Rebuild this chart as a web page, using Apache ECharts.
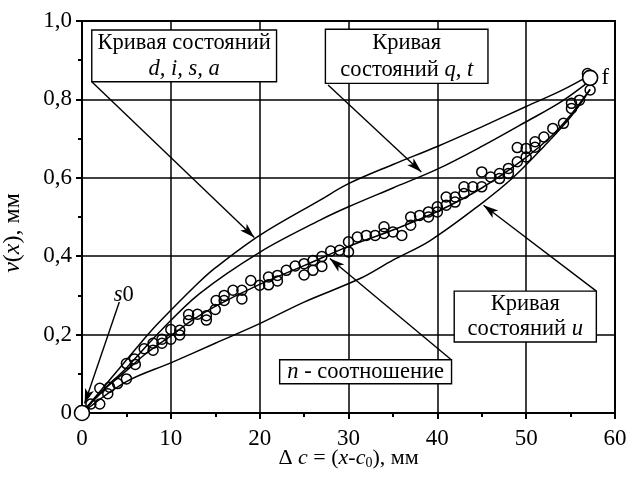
<!DOCTYPE html>
<html>
<head>
<meta charset="utf-8">
<script src="https://cdn.jsdelivr.net/npm/echarts@6/dist/echarts.min.js"></script>
<style>
  html, body { margin: 0; padding: 0; background: #fff; }
  #chart { width: 627px; height: 481px; }
</style>
</head>
<body>
<div id="chart"></div>
<script>
// Curves of states, mm displacement v(x) against Δc
const curveDISA = [[0,0],[2.35,0.064],[5,0.135],[7.6,0.205],[10,0.262],[13.2,0.334],[15,0.37],[20,0.453],[26.8,0.543],[30,0.585],[35,0.634],[40,0.68],[45,0.73],[50,0.782],[54,0.823],[57.2,0.862]];
const curveQT   = [[0,0],[2.35,0.058],[5,0.115],[8.7,0.206],[13.2,0.304],[20,0.41],[26.8,0.492],[30,0.526],[35,0.574],[40,0.622],[45,0.68],[50,0.743],[54,0.795],[57.2,0.848]];
const curveU    = [[0,0],[5,0.08],[10,0.128],[15,0.178],[20,0.228],[25,0.283],[31.3,0.343],[35,0.39],[39.2,0.44],[45,0.535],[48.5,0.6],[52,0.68],[55,0.755],[57.2,0.825]];
const curveN    = [[0,0],[1,0.025],[2,0.048],[3,0.07],[5,0.108],[7,0.148],[10,0.197],[12.5,0.238],[15,0.272],[20,0.328],[25,0.376],[30,0.425],[35,0.467],[40,0.514],[45,0.574],[50,0.652],[53,0.71],[55,0.76],[57.2,0.826]];

// Measured points
const measured = [[1.0,0.023],[2.0,0.023],[2.0,0.063],[2.9,0.049],[3.1,0.066],[4.0,0.075],[5.0,0.087],[5.0,0.126],[5.9,0.138],[6.0,0.124],[7.0,0.164],[8.0,0.160],[8.0,0.178],[9.0,0.178],[9.0,0.188],[10.0,0.213],[10.0,0.188],[11.0,0.211],[11.0,0.199],[12.0,0.251],[12.0,0.236],[13.0,0.252],[14.0,0.248],[14.0,0.237],[15.0,0.264],[15.1,0.287],[16.0,0.300],[16.0,0.287],[17.0,0.313],[18.0,0.313],[18.0,0.291],[19.0,0.338],[20.0,0.326],[21.0,0.347],[21.0,0.327],[22.0,0.351],[22.0,0.337],[23.0,0.364],[24.0,0.375],[25.0,0.381],[25.0,0.352],[26.0,0.389],[26.0,0.364],[27.0,0.399],[27.0,0.374],[28.0,0.413],[29.0,0.415],[30.0,0.437],[30.0,0.411],[31.0,0.449],[32.0,0.453],[33.0,0.453],[34.0,0.475],[34.0,0.458],[35.0,0.462],[36.0,0.453],[37.0,0.500],[37.0,0.479],[38.0,0.504],[39.0,0.513],[39.0,0.500],[40.0,0.526],[40.0,0.513],[41.0,0.551],[41.0,0.530],[42.0,0.551],[42.0,0.538],[43.0,0.577],[43.0,0.560],[44.0,0.577],[45.0,0.615],[45.0,0.577],[46.0,0.602],[47.0,0.611],[47.0,0.598],[48.0,0.624],[48.0,0.611],[49.0,0.641],[49.0,0.677],[50.0,0.653],[50.0,0.675],[51.0,0.692],[51.0,0.678],[52.0,0.704],[53.0,0.726],[54.2,0.739],[55.1,0.790],[55.1,0.777],[56.0,0.798],[56.9,0.866],[57.2,0.824]];

// Start and final states
const endStates = [[0,0],[57.2,0.855]];

// Axis ranges
const xRange = [0, 60, 10];
const yRange = [0, 1, 0.2];

const SERIF = "'Liberation Serif', 'Times New Roman', serif";
const FT = 23;      // tick labels
const FS = 22;      // horizontal axis title
const FY = 24;      // vertical axis title
const FB = 22.5;    // annotation text

const chart = echarts.init(document.getElementById('chart'), null, { renderer: 'canvas' });

const lineSeries = (name, data) => ({
  name, type: 'line', data, smooth: 0.35, showSymbol: false,
  lineStyle: { color: '#000', width: 1.5 }, z: 3, silent: true
});

function arrow(from, to) {
  return [{ coord: from }, { coord: to }];
}

chart.setOption({
  animation: false,
  backgroundColor: '#fff',
  grid: {
    left: 82, right: 12, top: 21, bottom: 68, containLabel: false, outerBoundsMode: 'none',
    show: true, borderColor: '#000', borderWidth: 2, backgroundColor: 'transparent'
  },
  xAxis: {
    type: 'value', min: xRange[0], max: xRange[1], interval: xRange[2],
    axisLine: { onZero: false, lineStyle: { color: '#000', width: 2 } },
    axisTick: { inside: false, length: 6, lineStyle: { color: '#000', width: 2 } },
    minorTick: { show: true, splitNumber: 2, length: 4, lineStyle: { color: '#000', width: 2 } },
    splitLine: { show: true, lineStyle: { color: '#000', width: 1.5 } },
    axisLabel: { color: '#000', fontSize: FT, fontFamily: SERIF, margin: 14 },
    name: '{n|Δ }{i|c}{n| = (}{i|x}{n|-}{i|c}{s|0}{n|), мм}',
    nameLocation: 'middle', nameGap: 33, nameMoveOverlap: false,
    nameTextStyle: {
      color: '#000', fontFamily: SERIF, fontSize: FS,
      rich: {
        n: { fontFamily: SERIF, fontSize: FS, color: '#000' },
        i: { fontFamily: SERIF, fontSize: FS, fontStyle: 'italic', color: '#000' },
        s: { fontFamily: SERIF, fontSize: 14, color: '#000', padding: [10, 0, 0, 0] }
      }
    }
  },
  yAxis: {
    type: 'value', min: yRange[0], max: yRange[1], interval: yRange[2],
    axisLine: { onZero: false, lineStyle: { color: '#000', width: 2 } },
    axisTick: { inside: false, length: 6, lineStyle: { color: '#000', width: 2 } },
    minorTick: { show: true, splitNumber: 2, length: 4, lineStyle: { color: '#000', width: 2 } },
    splitLine: { show: true, lineStyle: { color: '#000', width: 1.5 } },
    axisLabel: {
      color: '#000', fontSize: FT, fontFamily: SERIF, margin: 10,
      formatter: v => v === 0 ? '0' : v.toFixed(1).replace('.', ',')
    },
    name: '{i|v}{n|(}{i|x}{n|), мм}',
    nameLocation: 'middle', nameGap: 57, nameRotate: 90, nameMoveOverlap: false,
    nameTextStyle: {
      color: '#000', fontFamily: SERIF, fontSize: FY,
      padding: [0, 32, 0, 0],
      rich: {
        n: { fontFamily: SERIF, fontSize: FY, color: '#000' },
        i: { fontFamily: SERIF, fontSize: FY, fontStyle: 'italic', color: '#000' }
      }
    }
  },
  series: [
    lineSeries('d, i, s, a', curveDISA),
    lineSeries('q, t', curveQT),
    lineSeries('u', curveU),
    Object.assign(lineSeries('n', curveN), {
      markLine: {
        silent: true, symbol: ['none', 'arrow'], symbolSize: [7, 15],
        label: { show: false },
        lineStyle: { color: '#000', width: 1.4, type: 'solid' },
        data: [
          arrow([1.1, 0.845], [19.4, 0.448]),
          arrow([27.7, 0.837], [38.2, 0.615]),
          arrow([57.9, 0.311], [45.2, 0.53]),
          arrow([41.5, 0.137], [27.9, 0.394]),
          arrow([4.2, 0.283], [0.3, 0.024])
        ]
      }
    }),
    {
      name: 'measured', type: 'scatter', data: measured, symbol: 'circle', symbolSize: 10,
      itemStyle: { color: 'rgba(255,255,255,0)', borderColor: '#000', borderWidth: 1.5, opacity: 1 }, z: 4, silent: true
    },
    {
      name: 'states', type: 'scatter', data: endStates, symbol: 'circle', symbolSize: 15,
      itemStyle: { color: '#fff', borderColor: '#000', borderWidth: 1.6, opacity: 1 }, z: 5, silent: true,
      clip: false
    }
  ]
});

// Annotation boxes, placed in data units of the plot
const boxes = [
  { lt: [1.1, 0.977], rb: [21.9, 0.845], lines: ['{n|Кривая состояний}', '{i|d, i, s, a}'] },
  { lt: [27.4, 0.979], rb: [45.7, 0.841], lines: ['{n|Кривая}', '{n|состояний }{i|q, t}'] },
  { lt: [41.9, 0.311], rb: [57.9, 0.181], lines: ['{n|Кривая}', '{n|состояний }{i|u}'] },
  { lt: [22.25, 0.136], rb: [41.6, 0.0746], lines: ['{i|n}{n| - соотношение}'] }
];
const freeLabels = [
  { at: [4.7, 0.300], text: '{i|s}{n|0}' },
  { at: [58.9, 0.854], text: '{n|f}' }
];

const rich = {
  n: { fontFamily: SERIF, fontSize: FB, fill: '#000', color: '#000' },
  i: { fontFamily: SERIF, fontSize: FB, fontStyle: 'italic', fill: '#000', color: '#000' }
};

const px = p => chart.convertToPixel({ gridIndex: 0 }, p);
const elements = [];
boxes.forEach(b => {
  const a = px(b.lt), c = px(b.rb);
  const w = c[0] - a[0], h = c[1] - a[1];
  elements.push({
    type: 'rect', z: 100,
    shape: { x: a[0], y: a[1], width: w, height: h },
    style: { fill: '#fff', stroke: '#000', lineWidth: 1.4 }
  });
  const n = b.lines.length;
  b.lines.forEach((t, k) => {
    elements.push({
      type: 'text', z: 101,
      x: a[0] + w / 2, y: a[1] + h * (k + 0.5) / n,
      style: { text: t, rich, align: 'center', verticalAlign: 'middle', fontFamily: SERIF, fontSize: FB, fill: '#000' }
    });
  });
});
freeLabels.forEach(l => {
  const p = px(l.at);
  elements.push({
    type: 'text', z: 101, x: p[0], y: p[1],
    style: { text: l.text, rich, align: 'center', verticalAlign: 'middle', fontFamily: SERIF, fontSize: FB, fill: '#000' }
  });
});
chart.setOption({ graphic: elements });
</script>
</body>
</html>
